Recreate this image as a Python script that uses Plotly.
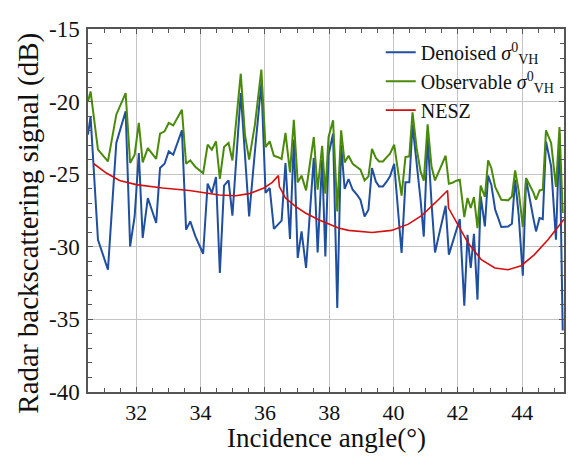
import plotly.graph_objects as go

# Incidence angle (deg) of the sample points
angle = [30.50, 30.58, 30.81, 31.12, 31.38, 31.67, 31.81, 31.95, 32.08, 32.20,
         32.36, 32.62, 32.74, 32.88, 33.01, 33.15, 33.42, 33.55, 33.68, 33.84,
         34.08, 34.22, 34.35, 34.48, 34.60, 34.73, 34.87, 34.99, 35.25, 35.38,
         35.51, 35.69, 35.89, 36.02, 36.15, 36.28, 36.41, 36.52, 36.64, 36.78,
         36.90, 37.02, 37.14, 37.28, 37.40, 37.52, 37.64, 37.78, 37.88, 37.98,
         38.12, 38.25, 38.37, 38.48, 38.60, 38.73, 38.86, 38.97, 39.10, 39.22,
         39.33, 39.45, 39.55, 39.67, 39.79, 39.89, 40.02, 40.14, 40.25, 40.37,
         40.49, 40.59, 40.72, 40.84, 40.94, 41.06, 41.18, 41.29, 41.40, 41.51,
         41.62, 41.72, 41.83, 41.95, 42.06, 42.20, 42.30, 42.40, 42.50, 42.61,
         42.71, 42.84, 42.94, 43.04, 43.16, 43.26, 43.35, 43.46, 43.56, 43.68,
         43.78, 43.89, 44.02, 44.12, 44.26, 44.35, 44.43, 44.54, 44.64, 44.74,
         44.90, 45.05, 45.16, 45.26]

observable_vh = [-19.99, -19.30, -23.31, -24.12, -20.90, -19.41, -24.23, -23.66, -21.47, -24.19,
                 -23.20, -23.95, -22.21, -22.05, -21.47, -21.64, -20.56, -24.28, -24.05, -24.50,
                 -24.92, -22.97, -23.31, -22.74, -25.33, -23.13, -22.85, -24.05, -18.08, -22.28,
                 -24.00, -21.59, -17.80, -23.13, -22.74, -23.73, -23.83, -23.95, -22.16, -24.88,
                 -21.25, -25.56, -25.10, -26.12, -24.28, -22.44, -26.07, -23.04, -26.34, -22.44,
                 -21.29, -27.56, -21.98, -24.19, -23.73, -24.28, -24.50, -24.69, -25.43, -25.15,
                 -23.26, -23.88, -24.12, -24.12, -23.82, -23.59, -22.97, -24.69, -26.48, -23.82,
                 -23.77, -20.74, -23.24, -24.81, -25.45, -21.56, -24.46, -25.43, -24.83, -24.28,
                 -23.73, -25.65, -25.59, -25.45, -25.38, -27.95, -26.64, -27.33, -26.57, -28.71,
                 -25.79, -26.57, -24.05, -24.57, -25.88, -26.34, -26.76, -26.78, -26.80, -26.53,
                 -24.74, -26.12, -28.64, -25.26, -25.84, -26.27, -26.76, -26.12, -26.07, -21.98,
                 -22.85, -25.88, -21.75, -27.67]

denoised_vh = [-22.28, -21.02, -29.51, -31.58, -22.85, -20.67, -29.97, -27.91, -23.54, -29.39,
               -26.64, -28.36, -24.57, -24.28, -23.43, -23.66, -21.98, -28.82, -28.25, -29.28,
               -30.48, -25.65, -26.29, -25.19, -31.80, -25.79, -25.43, -27.86, -19.41, -23.81,
               -27.91, -23.42, -18.72, -26.29, -25.95, -28.77, -28.48, -28.20, -24.23, -29.46,
               -22.62, -30.77, -28.94, -31.46, -27.65, -23.88, -30.39, -24.00, -30.66, -23.66,
               -22.21, -34.21, -22.97, -26.02, -25.33, -26.07, -26.41, -26.76, -27.91, -27.44,
               -24.57, -25.50, -25.84, -25.84, -25.50, -25.15, -24.28, -27.31, -30.43, -25.56,
               -25.56, -21.59, -24.14, -26.76, -29.30, -22.49, -26.94, -30.39, -29.30, -28.20,
               -27.17, -30.54, -29.72, -28.89, -28.09, -34.06, -29.17, -31.46, -29.10, -33.64,
               -26.53, -28.60, -25.10, -25.72, -27.44, -28.06, -28.64, -28.62, -28.60, -28.41,
               -25.38, -27.79, -31.99, -25.33, -27.17, -28.06, -28.94, -28.02, -28.09, -22.74,
               -24.46, -29.51, -22.16, -35.76]

nesz_angle = [30.68, 31.07, 31.48, 32.00, 32.82, 33.65, 34.17, 34.58, 35.10, 35.51,
              35.97, 36.23, 36.42, 36.45, 36.64, 36.95, 37.26, 37.67, 38.29, 38.60,
              39.33, 39.94, 40.46, 40.87, 41.29, 41.68, 41.71, 41.91, 42.32, 42.73,
              43.15, 43.56, 43.97, 44.38, 44.80, 45.21, 45.30]
nesz_db = [-24.28, -24.92, -25.43, -25.72, -25.95, -26.12, -26.29, -26.43, -26.48, -26.34,
           -25.95, -25.56, -25.10, -25.85, -26.64, -27.22, -27.67, -28.13, -28.71, -28.87,
           -29.01, -28.87, -28.44, -27.86, -26.98, -26.12, -27.33, -28.13, -29.74, -30.89,
           -31.46, -31.58, -31.30, -30.54, -29.51, -28.36, -28.10]

x_ticks = [32, 34, 36, 38, 40, 42, 44]
x_ticklabels = ["32", "34", "36", "38", "40", "42", "44"]
y_ticks = [-40, -35, -30, -25, -20, -15]
y_ticklabels = ["-40", "-35", "-30", "-25", "-20", "-15"]

FONT = "Liberation Serif, Times New Roman, serif"

fig = go.Figure()
fig.add_trace(go.Scatter(x=angle, y=denoised_vh, mode="lines",
                         name="Denoised <i>σ</i><sup>0</sup><sub>VH</sub>",
                         line=dict(color="#1f4f9e", width=2)))
fig.add_trace(go.Scatter(x=angle, y=observable_vh, mode="lines",
                         name="Observable <i>σ</i><sup>0</sup><sub>VH</sub>",
                         line=dict(color="#4a8a0a", width=2)))
fig.add_trace(go.Scatter(x=nesz_angle, y=nesz_db, mode="lines",
                         name="NESZ",
                         line=dict(color="#d40f0f", width=1.6)))

axis_common = dict(
    showline=True, linecolor="#555555", linewidth=1.5, mirror="ticks",
    ticks="inside", ticklen=5, tickcolor="#555555", tickwidth=1,
    showgrid=True, gridcolor="#c4c4c4", gridwidth=1,
    zeroline=False,
    tickfont=dict(family=FONT, size=23, color="#111111"),
)

fig.update_xaxes(
    range=[30.5, 45.3], tickmode="array", tickvals=x_ticks, ticktext=x_ticklabels,
    minor=dict(dtick=0.5, ticks="inside", ticklen=4, tickcolor="#555555", showgrid=False),
    ticklabelstandoff=0, tickfont=dict(family=FONT, size=22, color="#111111"),
    **{k: v for k, v in axis_common.items() if k != "tickfont"})
fig.update_yaxes(
    range=[-40, -15], tickmode="array", tickvals=y_ticks, ticktext=y_ticklabels,
    minor=dict(dtick=1, ticks="inside", ticklen=4, tickcolor="#555555", showgrid=False),
    ticklabelstandoff=2,
    **axis_common)

fig.add_annotation(
    text="Radar backscattering signal (dB)", textangle=-90,
    xref="paper", yref="paper", x=-0.125, y=0.465,
    xanchor="center", yanchor="middle", showarrow=False,
    font=dict(family=FONT, size=29, color="#111111"))
fig.add_annotation(
    text="Incidence angle(°)",
    xref="paper", yref="paper", x=0.502, y=-0.128,
    xanchor="center", yanchor="middle", showarrow=False,
    font=dict(family=FONT, size=27, color="#111111"))

fig.update_layout(
    width=568, height=456,
    margin=dict(l=88, r=2, t=29, b=64),
    plot_bgcolor="white", paper_bgcolor="white",
    font=dict(family=FONT, color="#111111"),
    legend=dict(x=0.615, y=0.99, xanchor="left", yanchor="top",
                bgcolor="rgba(0,0,0,0)", borderwidth=0,
                font=dict(family=FONT, size=20, color="#111111"),
                tracegroupgap=0, itemwidth=30),
    showlegend=True,
)

fig.write_html("out.html")
